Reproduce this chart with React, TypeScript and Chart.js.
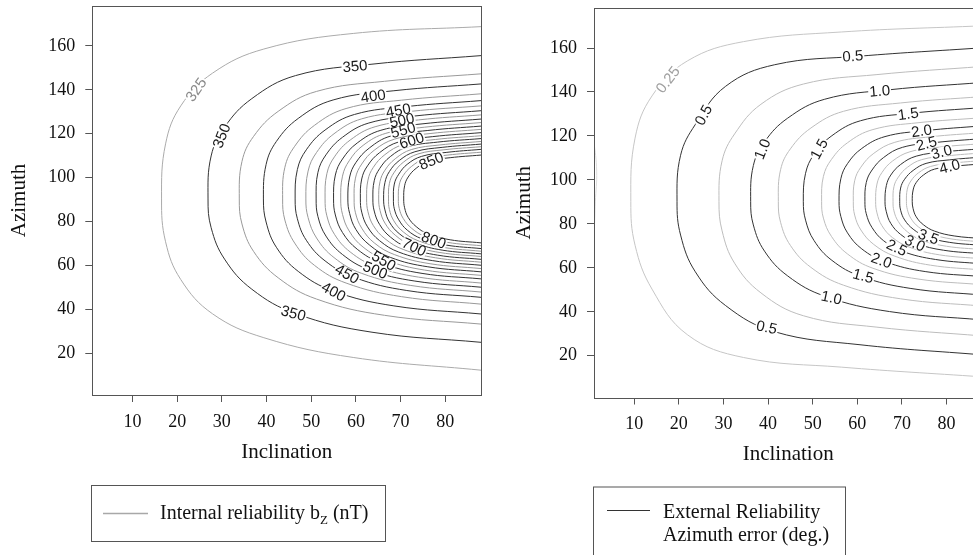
import { useEffect, useRef } from "react";
import { Chart, registerables } from "chart.js";

Chart.register(...registerables);

// ---------- axes ----------
const xTicks = [10, 20, 30, 40, 50, 60, 70, 80];
const yTicks = [20, 40, 60, 80, 100, 120, 140, 160];

// ---------- left panel: internal reliability b_z (nT) ----------
const leftLevels = [325, 350, 375, 400, 425, 450, 475, 500, 525, 550, 575, 600, 625, 650, 675, 700, 725, 750, 775, 800, 825, 850];
const leftContourX = [
  [88, 59.4, 39.4, 27.9, 20.8, 17.4, 16.5, 17.4, 20.8, 27.9, 39.4, 59.4, 88],
  [88, 63.6, 46.5, 36.7, 30.6, 27.6, 26.9, 27.6, 30.6, 36.7, 46.5, 63.6, 88],
  [88, 66.4, 51.2, 42.6, 37.1, 34.5, 33.9, 34.5, 37.1, 42.6, 51.2, 66.4, 88],
  [88, 68.5, 54.9, 47.1, 42.2, 39.9, 39.3, 39.9, 42.2, 47.1, 54.9, 68.5, 88],
  [88, 70.2, 57.8, 50.7, 46.3, 44.1, 43.6, 44.1, 46.3, 50.7, 57.8, 70.2, 88],
  [88, 71.4, 59.7, 53.1, 48.9, 46.9, 46.4, 46.9, 48.9, 53.1, 59.7, 71.4, 88],
  [88, 72.3, 61.3, 55.1, 51.2, 49.3, 48.8, 49.3, 51.2, 55.1, 61.3, 72.3, 88],
  [88, 73.2, 62.9, 57.0, 53.3, 51.5, 51.1, 51.5, 53.3, 57.0, 62.9, 73.2, 88],
  [88, 74.0, 64.3, 58.7, 55.2, 53.5, 53.1, 53.5, 55.2, 58.7, 64.3, 74.0, 88],
  [88, 74.8, 65.6, 60.3, 57.0, 55.4, 55.0, 55.4, 57.0, 60.3, 65.6, 74.8, 88],
  [88, 75.4, 66.7, 61.6, 58.5, 57.0, 56.6, 57.0, 58.5, 61.6, 66.7, 75.4, 88],
  [88, 76.1, 67.7, 63.0, 60.0, 58.6, 58.2, 58.6, 60.0, 63.0, 67.7, 76.1, 88],
  [88, 76.6, 68.7, 64.1, 61.3, 59.9, 59.6, 59.9, 61.3, 64.1, 68.7, 76.6, 88],
  [88, 77.2, 69.6, 65.3, 62.6, 61.3, 61.0, 61.3, 62.6, 65.3, 69.6, 77.2, 88],
  [88, 77.8, 70.6, 66.5, 63.9, 62.7, 62.4, 62.7, 63.9, 66.5, 70.6, 77.8, 88],
  [88, 78.3, 71.5, 67.7, 65.3, 64.1, 63.8, 64.1, 65.3, 67.7, 71.5, 78.3, 88],
  [88, 78.8, 72.4, 68.8, 66.5, 65.4, 65.1, 65.4, 66.5, 68.8, 72.4, 78.8, 88],
  [88, 79.3, 73.2, 69.7, 67.5, 66.5, 66.2, 66.5, 67.5, 69.7, 73.2, 79.3, 88],
  [88, 79.7, 73.9, 70.6, 68.5, 67.5, 67.3, 67.5, 68.5, 70.6, 73.9, 79.7, 88],
  [88, 80.2, 74.7, 71.5, 69.6, 68.6, 68.4, 68.6, 69.6, 71.5, 74.7, 80.2, 88],
  [88, 80.6, 75.4, 72.5, 70.6, 69.7, 69.5, 69.7, 70.6, 72.5, 75.4, 80.6, 88],
  [88, 81.1, 76.2, 73.5, 71.7, 70.9, 70.7, 70.9, 71.7, 73.5, 76.2, 81.1, 88],
];
const leftContourY = [
  [168.8, 165.7, 158.6, 147.6, 132.7, 115.4, 90.3, 70.8, 53.6, 38.0, 27.1, 18.1, 12.3],
  [155.6, 151.7, 146.5, 136.0, 123.0, 109.9, 90.3, 77.2, 62.9, 49.2, 38.1, 29.6, 25.0],
  [147.3, 143.9, 139.3, 130.2, 118.8, 107.4, 90.3, 78.9, 66.4, 54.4, 44.7, 37.3, 33.3],
  [142.7, 139.6, 135.4, 127.0, 116.5, 106.0, 90.3, 79.8, 68.3, 57.3, 48.4, 41.6, 37.9],
  [138.2, 135.3, 131.5, 123.8, 114.3, 104.7, 90.3, 80.7, 70.2, 60.1, 52.0, 45.8, 42.4],
  [135.1, 132.4, 128.8, 121.7, 112.7, 103.7, 90.3, 81.3, 71.5, 62.1, 54.5, 48.6, 45.5],
  [132.7, 130.2, 126.8, 120.0, 111.5, 103.0, 90.3, 81.8, 72.5, 63.6, 56.4, 50.9, 47.9],
  [130.5, 128.1, 124.9, 118.4, 110.4, 102.4, 90.3, 82.3, 73.4, 65.0, 58.1, 52.9, 50.1],
  [128.6, 126.3, 123.2, 117.1, 109.5, 101.8, 90.3, 82.6, 74.2, 66.2, 59.7, 54.7, 52.0],
  [126.7, 124.5, 121.6, 115.8, 108.5, 101.2, 90.3, 83.0, 75.0, 67.4, 61.2, 56.4, 53.9],
  [125.1, 123.0, 120.2, 114.7, 107.7, 100.7, 90.3, 83.3, 75.7, 68.4, 62.5, 57.9, 55.5],
  [123.5, 121.5, 118.9, 113.5, 106.9, 100.3, 90.3, 83.7, 76.4, 69.4, 63.7, 59.4, 57.1],
  [122.0, 120.1, 117.6, 112.5, 106.2, 99.8, 90.3, 84.0, 77.0, 70.3, 64.9, 60.8, 58.6],
  [120.5, 118.7, 116.3, 111.4, 105.4, 99.4, 90.3, 84.3, 77.6, 71.3, 66.1, 62.2, 60.1],
  [119.1, 117.4, 115.1, 110.5, 104.7, 98.9, 90.3, 84.5, 78.2, 72.2, 67.3, 63.5, 61.5],
  [117.8, 116.2, 114.0, 109.6, 104.1, 98.6, 90.3, 84.8, 78.7, 73.0, 68.3, 64.7, 62.8],
  [116.5, 114.9, 112.8, 108.6, 103.4, 98.2, 90.3, 85.1, 79.3, 73.8, 69.3, 65.9, 64.1],
  [115.3, 113.8, 111.8, 107.8, 102.8, 97.8, 90.3, 85.3, 79.8, 74.5, 70.3, 67.0, 65.3],
  [114.1, 112.7, 110.8, 107.0, 102.2, 97.4, 90.3, 85.5, 80.3, 75.3, 71.3, 68.2, 66.5],
  [112.9, 111.5, 109.7, 106.1, 101.6, 97.1, 90.3, 85.8, 80.8, 76.1, 72.2, 69.3, 67.7],
  [111.6, 110.3, 108.6, 105.2, 101.0, 96.7, 90.3, 86.0, 81.4, 76.9, 73.3, 70.5, 69.0],
  [110.3, 109.1, 107.5, 104.3, 100.3, 96.3, 90.3, 86.3, 81.9, 77.7, 74.3, 71.7, 70.3],
];
const leftLabelText = ["325", "350", "350", "400", "450", "500", "550", "600", "850", "350", "400", "450", "500", "550", "700", "800"];
const leftLabelX = [24.3, 30.0, 59.8, 63.9, 69.5, 70.3, 70.6, 72.5, 76.9, 46.0, 55.0, 58.0, 64.3, 66.2, 73.0, 77.4];
const leftLabelY = [140.0, 119.0, 150.6, 137.0, 130.5, 126.0, 121.5, 116.8, 107.5, 38.1, 48.0, 56.0, 57.8, 62.0, 68.3, 71.4];
const leftLabelAngle = [-55, -68, -5, -8, -10, -12, -15, -18, -22, 15, 28, 30, 22, 30, 25, 20];

// ---------- right panel: external reliability, azimuth error (deg.) ----------
const rightLevels = [0.25, 0.5, 0.75, 1.0, 1.25, 1.5, 1.75, 2.0, 2.25, 2.5, 2.75, 3.0, 3.25, 3.5, 3.75, 4.0];
const rightContourX = [
  [88, 56.5, 34.5, 21.9, 14.0, 10.2, 9.25, 10.2, 14.0, 21.9, 34.5, 56.5, 88],
  [88, 60.6, 41.5, 30.5, 23.7, 20.4, 19.6, 20.4, 23.7, 30.5, 41.5, 60.6, 88],
  [88, 64.4, 47.9, 38.4, 32.5, 29.7, 29.0, 29.7, 32.5, 38.4, 47.9, 64.4, 88],
  [88, 67.2, 52.7, 44.4, 39.2, 36.7, 36.1, 36.7, 39.2, 44.4, 52.7, 67.2, 88],
  [88, 69.7, 56.9, 49.6, 45.0, 42.8, 42.3, 42.8, 45.0, 49.6, 56.9, 69.7, 88],
  [88, 72.0, 60.7, 54.3, 50.3, 48.4, 47.9, 48.4, 50.3, 54.3, 60.7, 72.0, 88],
  [88, 73.6, 63.5, 57.8, 54.2, 52.4, 52.0, 52.4, 54.2, 57.8, 63.5, 73.6, 88],
  [88, 75.2, 66.2, 61.0, 57.8, 56.3, 55.9, 56.3, 57.8, 61.0, 66.2, 75.2, 88],
  [88, 76.4, 68.4, 63.7, 60.8, 59.4, 59.1, 59.4, 60.8, 63.7, 68.4, 76.4, 88],
  [88, 77.5, 70.1, 65.9, 63.3, 62.0, 61.7, 62.0, 63.3, 65.9, 70.1, 77.5, 88],
  [88, 78.4, 71.8, 67.9, 65.5, 64.4, 64.1, 64.4, 65.5, 67.9, 71.8, 78.4, 88],
  [88, 79.3, 73.2, 69.7, 67.5, 66.5, 66.2, 66.5, 67.5, 69.7, 73.2, 79.3, 88],
  [88, 80.0, 74.4, 71.2, 69.2, 68.2, 68.0, 68.2, 69.2, 71.2, 74.4, 80.0, 88],
  [88, 80.6, 75.4, 72.5, 70.6, 69.7, 69.5, 69.7, 70.6, 72.5, 75.4, 80.6, 88],
  [88, 81.2, 76.4, 73.7, 72.0, 71.2, 71.0, 71.2, 72.0, 73.7, 76.4, 81.2, 88],
  [88, 81.7, 77.3, 74.8, 73.2, 72.5, 72.3, 72.5, 73.2, 74.8, 77.3, 81.7, 88],
];
const rightContourY = [
  [170.1, 167.3, 162.9, 154.1, 138.2, 119.0, 90.25, 70.3, 50.3, 29.6, 19.2, 14.8, 10.4],
  [160.1, 156.3, 152.4, 142.6, 125.2, 111.2, 90.25, 74.9, 58.2, 42.8, 30.9, 25.0, 20.4],
  [151.6, 147.9, 143.6, 134.4, 120.9, 108.7, 90.25, 76.8, 62.1, 48.6, 38.2, 33.0, 29.0],
  [144.3, 141.0, 136.7, 128.1, 117.3, 106.5, 90.25, 79.5, 67.6, 56.3, 47.1, 40.1, 36.3],
  [137.9, 135.0, 131.2, 123.6, 114.1, 104.6, 90.25, 80.7, 70.2, 60.2, 52.1, 45.9, 42.6],
  [132.9, 130.3, 126.9, 120.1, 111.6, 103.0, 90.25, 81.7, 72.4, 63.4, 56.2, 50.6, 47.6],
  [128.3, 126.0, 122.9, 116.9, 109.3, 101.6, 90.25, 82.6, 74.3, 66.3, 59.8, 54.9, 52.3],
  [124.6, 122.4, 119.7, 114.3, 107.4, 100.5, 90.25, 83.4, 75.9, 68.6, 62.8, 58.3, 56.0],
  [121.5, 119.6, 117.1, 112.1, 105.8, 99.6, 90.25, 84.0, 77.2, 70.6, 65.3, 61.2, 59.0],
  [118.8, 117.0, 114.8, 110.2, 104.5, 98.8, 90.25, 84.6, 78.3, 72.3, 67.5, 63.8, 61.8],
  [116.5, 114.9, 112.8, 108.6, 103.3, 98.1, 90.25, 85.0, 79.2, 73.7, 69.3, 65.9, 64.1],
  [114.2, 112.7, 110.8, 107.0, 102.2, 97.4, 90.25, 85.5, 80.2, 75.2, 71.1, 68.0, 66.4],
  [112.3, 110.9, 109.2, 105.7, 101.3, 96.9, 90.25, 85.9, 81.0, 76.4, 72.6, 69.8, 68.3],
  [110.4, 109.1, 107.5, 104.3, 100.3, 96.3, 90.25, 86.2, 81.8, 77.6, 74.2, 71.6, 70.2],
  [108.8, 107.6, 106.1, 103.2, 99.5, 95.8, 90.25, 86.6, 82.5, 78.6, 75.5, 73.1, 71.8],
  [107.3, 106.2, 104.9, 102.2, 98.8, 95.4, 90.25, 86.9, 83.2, 79.6, 76.7, 74.5, 73.3],
];
// faint lowest contour that only grazes the left edge of the right panel
const rightEdgeContourX = [-0.5, 0.9, 1.6, 1.3, 1.0, 0.3, -0.5];
const rightEdgeContourY = [132, 118, 104, 90, 76, 62, 50];

const rightLabelText = ["0.25", "0.5", "0.5", "1.0", "1.0", "1.5", "1.5", "2.0", "2.5", "3.0", "4.0", "0.5", "1.0", "1.5", "2.0", "2.5", "3.0", "3.5"];
const rightLabelX = [17.6, 25.6, 59.0, 38.8, 65.0, 51.5, 71.4, 74.4, 75.5, 78.9, 80.7, 39.7, 54.2, 61.3, 65.4, 68.8, 72.9, 75.9];
const rightLabelY = [145.5, 129.5, 156.2, 114.0, 140.3, 114.0, 129.9, 122.2, 116.4, 112.6, 106.0, 32.8, 46.3, 56.2, 63.2, 69.0, 71.1, 74.0];
const rightLabelAngle = [-52, -62, -4, -68, -5, -62, -8, -8, -15, -15, -15, 12, 12, 15, 20, 25, 25, 20];

const SERIF = '"Liberation Serif", "Times New Roman", serif';
const SANS = '"Liberation Sans", Arial, sans-serif';

type Seg = { text: string; size: number; dy: number };
type LegendSpec = {
  box: [number, number, number, number];
  line: [number, number, number];
  lineColor: string;
  lineWidth: number;
  textX: number;
  rows: { y: number; segs: Seg[] }[];
};

type Panel = {
  datasets: { xs: number[]; ys: number[]; color: string }[];
  labels: { text: string; x: number; y: number; angle: number; color: string }[];
  padding: { left: number; top: number; right: number; bottom: number };
  yAxisWidth: number;
  yTitlePad: number;
  legend: LegendSpec;
};

function buildConfig(p: Panel): any {
  const labelPlugin = {
    id: "contourLabels",
    afterDatasetsDraw(chart: any) {
      const { ctx, chartArea: a } = chart;
      const xs = chart.scales.x;
      const ys = chart.scales.y;
      ctx.save();
      ctx.beginPath();
      ctx.rect(a.left, a.top, a.right - a.left, a.bottom - a.top);
      ctx.clip();
      ctx.font = `15px ${SANS}`;
      ctx.textAlign = "center";
      ctx.textBaseline = "middle";
      for (const l of p.labels) {
        const px = xs.getPixelForValue(l.x);
        const py = ys.getPixelForValue(l.y);
        ctx.save();
        ctx.translate(px, py);
        ctx.rotate((l.angle * Math.PI) / 180);
        const w = ctx.measureText(l.text).width;
        ctx.fillStyle = "#ffffff";
        ctx.fillRect(-w / 2 - 1, -5, w + 2, 10);
        ctx.fillStyle = l.color;
        ctx.fillText(l.text, 0, 0.5);
        ctx.restore();
      }
      ctx.restore();
    },
  };

  const framePlugin = {
    id: "frameAndLegend",
    afterDraw(chart: any) {
      const { ctx, chartArea: a } = chart;
      ctx.save();
      ctx.strokeStyle = "#555555";
      ctx.lineWidth = 1;
      ctx.strokeRect(Math.round(a.left) + 0.5, Math.round(a.top) + 0.5, Math.round(a.right - a.left), Math.round(a.bottom - a.top));
      const lg = p.legend;
      ctx.strokeStyle = "#555555";
      ctx.strokeRect(lg.box[0] + 0.5, lg.box[1] + 0.5, lg.box[2], lg.box[3]);
      ctx.strokeStyle = lg.lineColor;
      ctx.lineWidth = lg.lineWidth;
      ctx.beginPath();
      ctx.moveTo(lg.line[0], lg.line[2]);
      ctx.lineTo(lg.line[1], lg.line[2]);
      ctx.stroke();
      ctx.fillStyle = "#111111";
      ctx.textAlign = "left";
      ctx.textBaseline = "alphabetic";
      for (const row of lg.rows) {
        let x = lg.textX;
        for (const s of row.segs) {
          ctx.font = `${s.size}px ${SERIF}`;
          ctx.fillText(s.text, x, row.y + s.dy);
          x += ctx.measureText(s.text).width;
        }
      }
      ctx.restore();
    },
  };

  const tickFont = { family: SERIF, size: 18 };
  const titleFont = { family: SERIF, size: 21 };
  const grid = { display: true, drawOnChartArea: false, drawTicks: true, tickLength: 7, color: "#555555", lineWidth: 1 };

  return {
    type: "line",
    data: {
      datasets: p.datasets.map((d) => ({
        data: d.xs.map((x, j) => ({ x, y: d.ys[j] })),
        borderColor: d.color,
        borderWidth: 1,
        pointRadius: 0,
        pointHoverRadius: 0,
        tension: 0.4,
        fill: false,
      })),
    },
    options: {
      responsive: false,
      animation: false,
      devicePixelRatio: 1,
      events: [],
      layout: { padding: p.padding },
      plugins: { legend: { display: false }, tooltip: { enabled: false } },
      scales: {
        x: {
          type: "linear",
          min: 1,
          max: 88,
          afterBuildTicks: (s: any) => {
            s.ticks = xTicks.map((v) => ({ value: v }));
          },
          afterFit: (s: any) => {
            s.height = 70;
            s.paddingLeft = 0;
            s.paddingRight = 0;
          },
          ticks: { font: tickFont, color: "#111111", padding: 9, autoSkip: false, maxRotation: 0 },
          grid,
          border: { display: false },
          title: { display: true, text: "Inclination", font: titleFont, color: "#111111", padding: { top: 0, bottom: 0 } },
        },
        y: {
          type: "linear",
          min: 1,
          max: 178.2,
          afterBuildTicks: (s: any) => {
            s.ticks = yTicks.map((v) => ({ value: v }));
          },
          afterFit: (s: any) => {
            s.width = p.yAxisWidth;
            s.paddingTop = 0;
            s.paddingBottom = 0;
          },
          ticks: { font: tickFont, color: "#111111", padding: 10, autoSkip: false },
          grid,
          border: { display: false },
          title: { display: true, text: "Azimuth", font: titleFont, color: "#111111", padding: { top: p.yTitlePad, bottom: 0 } },
        },
      },
    },
    plugins: [labelPlugin, framePlugin],
  };
}

function leftColor(level: number): string {
  if (level === leftLevels[0]) return "#ababab";
  return level % 50 === 0 ? "#333333" : "#999999";
}
function rightColor(level: number): string {
  if (level === rightLevels[0]) return "#c6c6c6";
  return (level * 2) % 1 === 0 ? "#333333" : "#bdbdbd";
}

export default function App() {
  const leftRef = useRef<HTMLCanvasElement>(null);
  const rightRef = useRef<HTMLCanvasElement>(null);

  useEffect(() => {
    const leftPanel: Panel = {
      datasets: leftLevels.map((lv, i) => ({ xs: leftContourX[i], ys: leftContourY[i], color: leftColor(lv) })),
      labels: leftLabelText.map((t, i) => ({
        text: t,
        x: leftLabelX[i],
        y: leftLabelY[i],
        angle: leftLabelAngle[i],
        color: Number(t) === leftLevels[0] ? "#8a8a8a" : "#1a1a1a",
      })),
      padding: { left: 0, top: 6, right: 19, bottom: 90 },
      yAxisWidth: 92.3,
      yTitlePad: 7,
      legend: {
        box: [91, 485, 294, 56],
        line: [103, 148, 513.5],
        lineColor: "#a8a8a8",
        lineWidth: 1.5,
        textX: 160,
        rows: [
          {
            y: 519,
            segs: [
              { text: "Internal reliability b", size: 20, dy: 0 },
              { text: "Z", size: 13, dy: 5 },
              { text: " (nT)", size: 20, dy: 0 },
            ],
          },
        ],
      },
    };

    const rightPanel: Panel = {
      datasets: [
        { xs: rightEdgeContourX, ys: rightEdgeContourY, color: "#dddddd" },
        ...rightLevels.map((lv, i) => ({ xs: rightContourX[i], ys: rightContourY[i], color: rightColor(lv) })),
      ],
      labels: rightLabelText.map((t, i) => ({
        text: t,
        x: rightLabelX[i],
        y: rightLabelY[i],
        angle: rightLabelAngle[i],
        color: Number(t) === rightLevels[0] ? "#a0a0a0" : "#1a1a1a",
      })),
      padding: { left: 0, top: 8, right: 17.7, bottom: 87.5 },
      yAxisWidth: 94,
      yTitlePad: 12,
      legend: {
        box: [93, 486.5, 252, 120],
        line: [107, 150, 510.5],
        lineColor: "#333333",
        lineWidth: 1,
        textX: 163,
        rows: [
          { y: 518, segs: [{ text: "External Reliability", size: 20, dy: 0 }] },
          { y: 541, segs: [{ text: "Azimuth error (deg.)", size: 20, dy: 0 }] },
        ],
      },
    };

    const c1 = new Chart(leftRef.current as HTMLCanvasElement, buildConfig(leftPanel));
    const c2 = new Chart(rightRef.current as HTMLCanvasElement, buildConfig(rightPanel));
    return () => {
      c1.destroy();
      c2.destroy();
    };
  }, []);

  return (
    <div style={{ position: "fixed", left: 0, top: 0, width: 973, height: 555, overflow: "hidden", background: "#ffffff" }}>
      <canvas ref={leftRef} width={500} height={555} style={{ position: "absolute", left: 0, top: 0, width: 500, height: 555 }} />
      <canvas ref={rightRef} width={500} height={555} style={{ position: "absolute", left: 500, top: 0, width: 500, height: 555 }} />
    </div>
  );
}
